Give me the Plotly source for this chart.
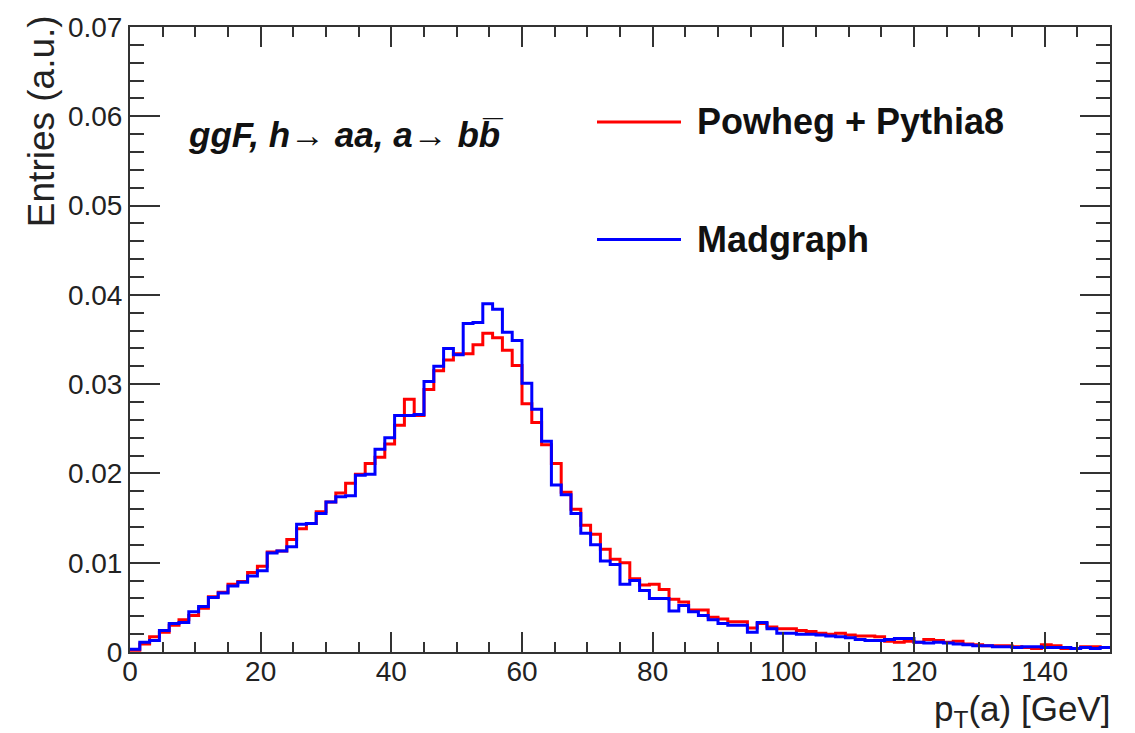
import plotly.graph_objects as go

# ---------------- data (bin contents, 100 bins of 1.5 GeV from 0 to 150) ----------------
bin_lo = 0.0
bin_hi = 150.0
n_bins = 100

madgraph = [
    0.0003, 0.0011, 0.0013, 0.0024, 0.0032, 0.0033, 0.0045, 0.0051, 0.0061, 0.0066,
    0.0074, 0.0078, 0.0085, 0.0091, 0.0111, 0.0113, 0.0118, 0.0143, 0.0144, 0.0155,
    0.0168, 0.0174, 0.0175, 0.0198, 0.0199, 0.0227, 0.0240, 0.0265, 0.0265, 0.0266,
    0.0303, 0.0320, 0.0340, 0.0333, 0.0368, 0.0369, 0.0390, 0.0384, 0.0358, 0.0349,
    0.0301, 0.0272, 0.0236, 0.0187, 0.0176, 0.0155, 0.0133, 0.0120, 0.0102, 0.0098,
    0.0076, 0.0080, 0.0069, 0.0060, 0.0060, 0.0046, 0.0052, 0.0045, 0.0041, 0.0036,
    0.0032, 0.0030, 0.0030, 0.0022, 0.0033, 0.0026, 0.0021, 0.0021, 0.0020, 0.0020,
    0.0019, 0.0018, 0.0017, 0.0016, 0.0014, 0.0013, 0.0013, 0.0014, 0.0015, 0.0015,
    0.0011, 0.0010, 0.0011, 0.0010, 0.0009, 0.0008, 0.0007, 0.0007, 0.0006, 0.0006,
    0.0005, 0.0006, 0.0006, 0.0005, 0.0005, 0.0005, 0.0004, 0.0005, 0.0004, 0.0005,
]

powheg = [
    0.0002, 0.0009, 0.0017, 0.0022, 0.0030, 0.0036, 0.0041, 0.0049, 0.0062, 0.0067,
    0.0076, 0.0079, 0.0089, 0.0096, 0.0112, 0.0113, 0.0126, 0.0138, 0.0144, 0.0157,
    0.0168, 0.0178, 0.0189, 0.0199, 0.0211, 0.0218, 0.0233, 0.0254, 0.0283, 0.0265,
    0.0294, 0.0315, 0.0327, 0.0334, 0.0334, 0.0344, 0.0357, 0.0352, 0.0338, 0.0321,
    0.0278, 0.0257, 0.0232, 0.0211, 0.0179, 0.0160, 0.0142, 0.0132, 0.0115, 0.0104,
    0.0100, 0.0082, 0.0075, 0.0076, 0.0070, 0.0059, 0.0056, 0.0047, 0.0047, 0.0039,
    0.0037, 0.0034, 0.0034, 0.0027, 0.0032, 0.0028, 0.0026, 0.0026, 0.0024, 0.0023,
    0.0021, 0.0020, 0.0021, 0.0019, 0.0018, 0.0018, 0.0017, 0.0012, 0.0011, 0.0012,
    0.0011, 0.0014, 0.0013, 0.0011, 0.0012, 0.0009, 0.0008, 0.0007, 0.0007, 0.0007,
    0.0006, 0.0005, 0.0004, 0.0008, 0.0007, 0.0004, 0.0004, 0.0006, 0.0006, 0.0005,
]

series_names = ["Powheg + Pythia8", "Madgraph"]
series_colors = ["#ff0000", "#0000ff"]

x_tick_vals = [0, 20, 40, 60, 80, 100, 120, 140]
y_tick_vals = [0, 0.01, 0.02, 0.03, 0.04, 0.05, 0.06, 0.07]
y_tick_text = ["0", "0.01", "0.02", "0.03", "0.04", "0.05", "0.06", "0.07"]

# ---------------- figure ----------------
W, H = 1135, 733
L, R, T, B = 130, 25, 20, 81
PW, PH = W - L - R, H - T - B


def px(xp):
    return (xp - L) / PW


def py(yp):
    return (H - B - yp) / PH


width = (bin_hi - bin_lo) / n_bins
edges = [bin_lo + i * width for i in range(n_bins + 1)]

fig = go.Figure()
for name, vals, col in zip(series_names, [powheg, madgraph], series_colors):
    fig.add_trace(go.Scatter(
        x=edges, y=list(vals) + [vals[-1]],
        mode="lines", line=dict(color=col, width=3, shape="hv"),
        name=name, showlegend=False, hoverinfo="skip",
    ))

axcol = "#333333"
font = "Liberation Sans, Arial, Helvetica, sans-serif"

fig.update_layout(
    width=W, height=H,
    margin=dict(l=L, r=R, t=T, b=B, pad=0),
    paper_bgcolor="white", plot_bgcolor="white",
    font=dict(family=font, color="#222222"),
    xaxis=dict(
        range=[bin_lo, bin_hi], showgrid=False, zeroline=False,
        showline=True, linecolor=axcol, linewidth=2, mirror="allticks",
        ticks="inside", ticklen=20, tickwidth=1.5, tickcolor=axcol,
        tickvals=x_tick_vals, tickfont=dict(size=28, family=font, color="#222222"),
        ticklabelstandoff=-7,
        minor=dict(dtick=5, tick0=0, ticks="inside", ticklen=10, tickwidth=1.5,
                   tickcolor=axcol, showgrid=False),
    ),
    yaxis=dict(
        range=[0, 0.07], showgrid=False, zeroline=False,
        showline=True, linecolor=axcol, linewidth=2, mirror="allticks",
        ticks="inside", ticklen=30, tickwidth=1.5, tickcolor=axcol,
        tickvals=y_tick_vals, ticktext=y_tick_text,
        tickfont=dict(size=28, family=font, color="#222222"),
        minor=dict(dtick=0.002, tick0=0, ticks="inside", ticklen=14, tickwidth=1.5,
                   tickcolor=axcol, showgrid=False),
    ),
)

annotations = [
    # axis titles
    dict(text="Entries (a.u.)", x=px(41), y=py(6), xref="paper", yref="paper",
         xanchor="center", yanchor="top", textangle=-90, showarrow=False,
         font=dict(size=37, family=font, color="#222222")),
    dict(text="p<sub>T</sub>(a) [GeV]", x=px(1112), y=py(712), xref="paper", yref="paper",
         xanchor="right", yanchor="middle", showarrow=False,
         font=dict(size=35, family=font, color="#222222")),
    # process label
    dict(text="<b><i>ggF, h\u2192 aa, a\u2192 bb\u0305</i></b>", x=px(186), y=py(129),
         xref="paper", yref="paper", xanchor="left", yanchor="middle", showarrow=False,
         font=dict(size=35, family=font, color="#111111")),
]

legend_y = [116, 235]
shapes = []
for name, col, ly in zip(series_names, series_colors, legend_y):
    shapes.append(dict(type="line", xref="paper", yref="paper",
                       x0=px(597), x1=px(681), y0=py(ly), y1=py(ly),
                       line=dict(color=col, width=3)))
    annotations.append(dict(text="<b>" + name + "</b>", x=px(695), y=py(ly),
                            xref="paper", yref="paper", xanchor="left", yanchor="middle",
                            showarrow=False, font=dict(size=36, family=font, color="#111111")))

fig.update_layout(annotations=annotations, shapes=shapes)
fig.write_html("out.html")
